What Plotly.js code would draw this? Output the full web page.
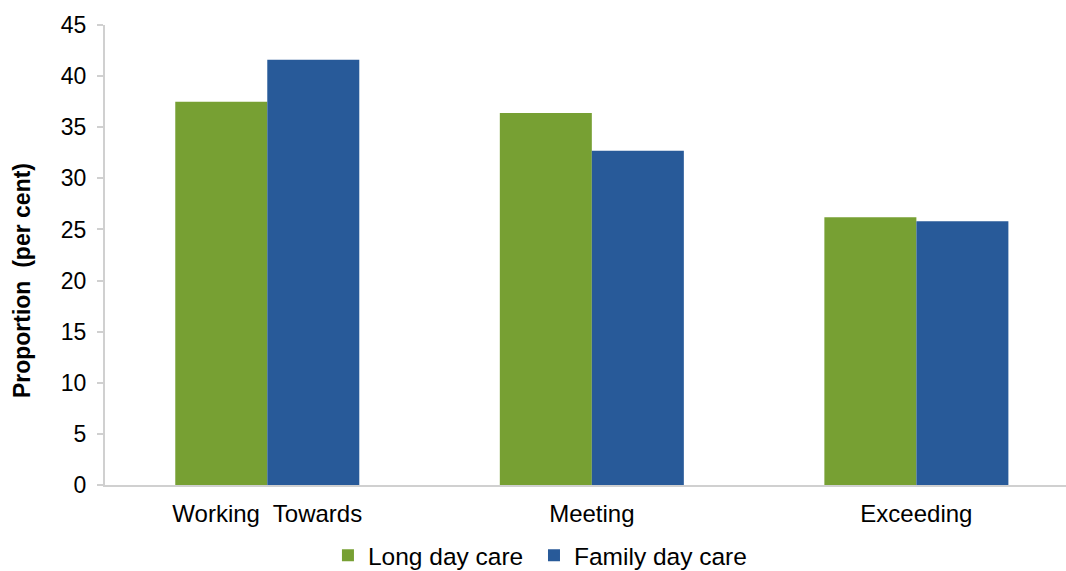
<!DOCTYPE html>
<html>
<head>
<meta charset="utf-8">
<script src="https://cdn.plot.ly/plotly-3.0.1.min.js"></script>
<style>html,body{margin:0;padding:0;background:#fff;}#chart{width:1066px;height:571px;}</style>
</head>
<body>
<div id="chart"></div>
<script>
const categories = ["Working  Towards", "Meeting", "Exceeding"];
const longDayCare = [37.5, 36.4, 26.2];
const familyDayCare = [41.6, 32.7, 25.8];
const yTicks = [0, 5, 10, 15, 20, 25, 30, 35, 40, 45];

const traces = [
  {type: "bar", name: "Long day care", x: categories, y: longDayCare,
   legend: "legend",
   marker: {color: "#77A033", line: {width: 0}}},
  {type: "bar", name: "Family day care", x: categories, y: familyDayCare,
   legend: "legend2",
   marker: {color: "#285A99", line: {width: 0}}}
];

const legendCommon = {orientation: "h", xanchor: "left", xref: "paper",
  y: 0.067, yanchor: "top", yref: "container", font: {size: 24.5},
  itemwidth: 30, bgcolor: "rgba(0,0,0,0)"};

const layout = {
  width: 1066, height: 571,
  margin: {l: 105, r: 0, t: 25, b: 86},
  paper_bgcolor: "#fff", plot_bgcolor: "#fff",
  font: {family: "Liberation Sans, Arial, sans-serif", color: "#000"},
  barmode: "group", bargap: 0.433, bargroupgap: 0,
  showlegend: true,
  legend: Object.assign({}, legendCommon, {x: 0.232}),
  legend2: Object.assign({}, legendCommon, {x: 0.4464}),
  xaxis: {type: "category", range: [-0.5, 2.461], showgrid: false, zeroline: false,
          showline: true, linecolor: "#d0d0d0", linewidth: 2, ticks: "",
          ticklabelstandoff: 6,
          tickfont: {size: 24}, automargin: false, fixedrange: true},
  yaxis: {range: [0, 45], tickvals: yTicks, showgrid: false, zeroline: false,
          showline: true, linecolor: "#d0d0d0", linewidth: 2,
          ticks: "outside", ticklen: 6, tickcolor: "#d0d0d0", tickwidth: 2,
          ticklabelstandoff: 6,
          tickfont: {size: 23}, automargin: false,
          title: {text: "<b>Proportion  (per cent)\u00a0\u00a0\u00a0\u00a0\u00a0\u00a0\u00a0\u00a0</b>",
                  font: {size: 23}, standoff: 24}}
};

Plotly.newPlot("chart", traces, layout, {staticPlot: true, displayModeBar: false});
</script>
</body>
</html>
